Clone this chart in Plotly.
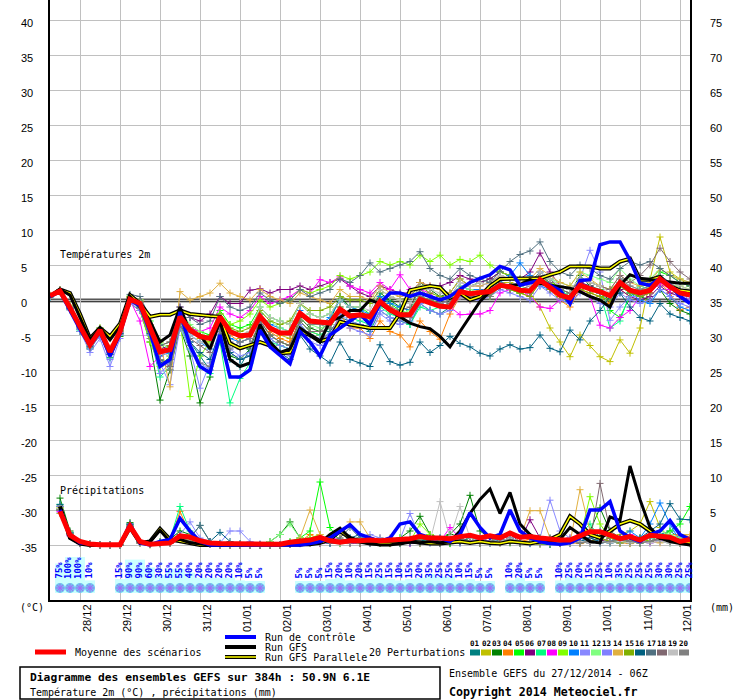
import plotly.graph_objects as go

# echeances en heures depuis le 27/12/2014 06Z
hours = list(range(0, 385, 6))
hours_p = hours[1:]          # les precipitations commencent a +6h

day_labels = ["28/12", "29/12", "30/12", "31/12", "01/01", "02/01", "03/01", "04/01",
              "05/01", "06/01", "07/01", "08/01", "09/01", "10/01", "11/01", "12/01"]
day_hours = [18 + 24 * k for k in range(len(day_labels))]

pert_colors = ["#008080", "#c0c000", "#008000", "#ff8000", "#00ff00", "#800080", "#00ff80",
               "#ff00ff", "#80ff00", "#0080ff", "#8888ff", "#80ff80", "#8080ff", "#e0b040",
               "#80b000", "#006080", "#507080", "#806870", "#c0c0c0", "#808080"]

# ---- temperatures 2m (C) ----
t_mean = [0.6, 1.3, -1.1,
          -3.8, -6.4, -4.3, -7.4, -4.5, 0.1, -0.5, -3.8, -7.4, -7.1, -2.4, -4.3,
          -5.2, -5.5, -2.4, -4.5, -5.1, -5.0, -2.3, -4.0, -4.7, -4.7, -1.9, -3.0,
          -3.1, -3.3, -1.3, -2.3, -2.1, -2.4, -0.2, -1.4, -2.1, -2.1, 0.1, -0.4,
          -0.9, -1.0, 1.2, 0.9, 1.0, 1.2, 2.1, 1.9, 1.4, 1.3, 2.9, 1.7,
          0.7, 0.3, 2.1, 1.6, 1.2, 0.6, 2.5, 1.4, 1.0, 1.4, 3.0, 1.9,
          1.0, 0.7]
t_ctrl = [0.5, 1.2, -1.5,
          -4.2, -6.5, -4.5, -8.0, -4.8, 0.0, -0.8, -4.5, -9.5, -8.5, -1.7, -6.5,
          -9.5, -10.4, -5.0, -11.0, -11.0, -10.0, -4.3, -6.7, -7.9, -9.1, -4.5, -6.0,
          -8.0, -5.0, -4.0, -3.0, -2.0, -3.5, -0.5, 1.0, 1.0, 0.5, 1.0, 0.5,
          0.0, 0.5, 1.5, 2.5, 3.1, 3.6, 4.8, 4.3, 2.1, 2.5, 2.8, 2.1,
          1.4, -0.5, 2.8, 2.9, 7.9, 8.3, 8.3, 5.7, 2.4, 2.1, 3.1, 2.1,
          0.5, -0.5]
t_gfs = [0.5, 1.5, 0.7,
         -2.4, -5.7, -4.0, -5.7, -3.8, 0.5, -1.0, -3.0, -6.0, -5.0, -1.0, -4.5,
         -5.0, -7.0, -3.0, -8.5, -9.5, -9.0, -3.5, -6.0, -7.5, -7.0, -4.0, -5.0,
         -6.0, -3.0, -2.5, -1.5, -1.5, 0.0, -0.5, -1.5, -2.4, -3.3, -3.8, -4.1,
         -5.2, -6.7, -4.5, -2.4, -0.2, 1.2, 1.9, 2.1, 2.2, 2.9, 2.4, 2.1,
         1.9, 1.7, 1.2, 0.5, 0.0, -1.0, 2.1, 3.6, 3.1, 2.9, 2.7, 2.5,
         2.4, 2.4]
t_gfsp = [0.5, 1.5, 1.0,
          -2.0, -5.5, -4.0, -5.2, -3.4, 0.7, -0.5, -2.4, -2.1, -2.1, -1.5, -2.0,
          -2.2, -2.3, -2.4, -6.2, -6.9, -6.5, -6.0, -6.5, -7.6, -7.5, -4.5, -5.0,
          -5.9, -5.5, -3.1, -3.5, -3.8, -4.0, -4.0, -4.0, -1.9, 1.4, 1.7, 2.0,
          1.8, 0.3, 1.0, 0.0, 0.5, 2.0, 3.0, 3.0, 3.1, 3.0, 3.1, 3.6,
          4.0, 4.8, 4.8, 4.8, 4.5, 4.5, 5.5, 5.9, 2.9, 2.9, 3.3, 1.9,
          1.4, 1.2]

t01 = [0.4, 1.2, -1.2, -4.2, -6.6, -4.6, -7.8, -4.8, 0.0, -0.8, -4.5, -8.5, -9.0, -3.0, -6.0,
       -8.0, -10.0, -5.0, -8.5, -9.5, -7.0, -4.0, -5.5, -6.5, -7.0, -3.5, -5.0,
       -6.0, -4.5, -2.5, -3.0, -3.5, -4.5, -1.5, -2.5, -3.0, -3.5, -0.5, -1.5,
       -2.0, -1.0, 1.0, 0.5, 0.5, 1.5, 2.5, 2.0, 1.0, 1.5, 3.5, 2.5,
       1.0, 0.5, 2.5, 2.0, 1.5, 0.5, 3.0, 1.5, 0.5, 1.0, 3.5, 2.5, 1.0, 0.5]
t02 = [0.6, 1.4, -0.8, -3.6, -6.2, -4.2, -7.0, -4.2, 0.4, -0.2, -3.8, -7.5, -7.0, -2.0, -4.5,
       -5.5, -6.0, -2.5, -4.5, -5.5, -5.0, -2.0, -4.0, -5.0, -5.5, -2.0, -3.5,
       -3.0, -3.5, -1.0, -2.0, -2.0, -3.0, 0.0, -1.0, -2.0, -2.5, 0.5, 0.0,
       -0.5, -1.0, 1.5, 1.0, 1.5, 1.0, 2.5, 2.5, 1.5, 1.0, -1.0, -4.0,
       -6.0, -8.1, -5.0, -6.5, -8.1, -8.8, -5.7, -7.6, -4.0, 2.9, 9.0, 4.0, 3.0, 2.0]
t03 = [0.5, 1.2, -1.4, -4.5, -7.0, -5.0, -8.2, -5.2, -0.5, -1.5, -6.0, -14.3, -10.0, -4.0, -8.0,
       -14.7, -11.0, -4.5, -8.0, -8.5, -7.0, -3.0, -5.0, -6.0, -6.5, -2.5, -4.0,
       -4.5, -3.0, 0.5, -1.0, -1.5, -2.5, 1.0, 0.0, -1.0, -1.5, 2.5, 1.5,
       0.5, 1.0, 3.0, 2.0, 2.5, 3.0, 4.0, 3.5, 2.0, 2.5, 4.0, 3.0,
       1.5, 1.0, 3.5, 2.0, 1.0, 0.0, 2.0, 1.0, 0.5, 0.0, 1.5, -0.5, -1.5, -2.0]
t04 = [0.5, 1.3, -1.0, -3.8, -6.3, -4.3, -7.3, -4.4, 0.3, -0.3, -3.5, -6.5, -6.0, -1.5, -4.0,
       -5.0, -6.5, -2.0, -5.0, -6.0, -5.5, -2.5, -4.5, -5.5, -6.0, -3.0, -4.5,
       -5.0, -5.5, -2.0, -4.0, -4.0, -5.5, -3.0, -4.5, -5.0, -6.7, -3.0, -4.5,
       -5.6, -2.0, 0.5, 0.0, 0.5, 1.5, 2.0, 1.5, 1.0, 0.5, 2.5, 1.5,
       0.0, -1.0, 1.5, 1.0, 0.5, -0.5, 1.5, 0.5, 0.5, 1.0, 2.5, 1.0, -1.4, -1.0]
t05 = [0.6, 1.4, -0.9, -3.5, -6.0, -4.0, -7.0, -4.0, 0.5, 0.0, -3.0, -6.0, -8.0, -2.0, -4.0,
       -4.5, -5.0, -1.5, -3.5, -4.0, -3.5, -1.0, -2.5, -3.0, -3.5, -0.5, -2.0,
       -2.5, -2.0, 0.0, -1.0, -1.0, -2.0, 0.5, -0.5, -1.5, -2.0, 0.5, 0.0,
       -0.5, -1.0, 1.0, 0.5, 1.0, 0.5, 2.0, 1.5, 1.0, 1.5, 3.5, 2.0,
       0.5, -0.5, 2.0, 1.5, 1.5, -1.5, -2.5, 0.5, 1.5, 2.0, 4.0, 3.5, 2.5, 2.0]
t06 = [0.5, 1.3, -1.1, -3.9, -6.5, -4.4, -7.5, -4.6, 0.1, -0.6, -3.8, -7.0, -6.5, -1.0, -2.5,
       -3.0, -2.0, 0.5, -0.5, -0.5, 1.4, 1.6, 1.0, 1.5, 1.5, 2.0, 1.5,
       2.0, 2.5, 3.0, 2.0, 1.0, 0.5, 2.0, 1.5, 1.0, 1.0, 2.5, 2.0,
       2.0, 2.5, 3.5, 3.0, 2.5, 3.0, 4.0, 3.5, 3.0, 4.0, 6.7, 4.0,
       2.0, 1.5, 2.5, 2.0, 1.0, 0.5, 1.5, 0.5, 0.0, 0.5, 2.0, 1.0, 0.5, 0.0]
t07 = [0.4, 1.2, -1.3, -4.3, -6.9, -4.8, -8.3, -5.0, -0.3, -1.0, -5.0, -11.0, -9.5, -3.5, -7.0,
       -9.5, -10.5, -6.0, -14.7, -11.2, -9.0, -4.5, -6.0, -6.5, -7.0, -3.0, -4.5,
       -5.0, -4.0, -1.5, -2.5, -3.0, -3.5, -1.0, -2.0, -2.5, -3.5, -1.0, -1.5,
       -1.0, -0.5, 1.5, 1.0, 1.0, 1.5, 2.5, 2.0, 1.5, 1.0, 3.0, 2.5,
       1.5, 0.5, 2.0, 1.5, 1.0, -4.0, -3.0, 1.0, 2.0, 1.5, 3.5, 2.0, 1.5, 1.0]
t08 = [0.5, 1.3, -1.0, -3.8, -6.4, -4.3, -7.4, -4.6, 0.0, -3.0, -9.5, -8.0, -7.0, -2.0, -4.0,
       -4.5, -4.0, -1.0, -2.0, -2.5, -1.5, 0.5, -0.5, 0.0, 0.5, 1.5, 1.0,
       2.9, 2.5, 3.3, 2.0, 1.5, 1.0, 2.5, 1.5, 3.6, 1.5, 1.5, 1.0,
       -0.5, -1.0, -2.1, -2.0, -2.0, -1.5, 1.0, 1.5, 1.5, 0.5, -1.0, -1.2,
       0.0, 0.5, 1.5, 0.5, -3.6, -4.0, -2.5, -1.5, 0.5, 1.0, 2.5, 1.5, 1.0, 0.5]
t09 = [0.5, 1.4, -0.9, -3.6, -6.3, -4.2, -7.2, -4.4, 0.3, -1.5, -6.0, -9.5, -8.0, -3.0, -13.8,
       -8.0, -6.0, -2.0, -3.5, -3.0, -2.0, 0.0, -1.0, -0.5, 0.0, 1.5, 1.0,
       1.5, 2.0, 3.5, 3.0, 3.5, 4.0, 5.5, 5.0, 5.5, 5.0, 6.4, 5.5,
       6.4, 5.0, 5.8, 5.5, 6.4, 5.0, 4.0, 3.5, 3.0, 2.5, 3.5, 2.5,
       2.0, 1.5, 3.0, 2.5, 2.0, 1.5, 2.5, 1.5, 1.0, 1.5, 3.0, 2.0, 2.0, 1.5]
t10 = [0.5, 1.3, -1.1, -3.9, -6.5, -4.5, -7.6, -4.7, -0.2, -0.8, -4.2, -8.0, -7.5, -2.5, -5.0,
       -6.0, -7.0, -3.0, -5.5, -6.0, -5.5, -2.0, -3.5, -4.0, -4.5, -1.5, -3.0,
       -3.5, -2.5, 0.0, -1.0, -1.5, -2.0, 0.5, -0.5, -1.0, -1.5, 1.0, 0.5,
       0.0, 0.5, 2.0, 1.5, 1.5, 1.0, 2.5, 3.5, 5.3, 3.5, 2.0, 1.5,
       1.0, 0.5, 2.0, 1.5, 1.0, 0.5, 2.5, 1.0, 0.0, -0.5, 1.5, 0.5, -1.0, -1.5]
t11 = [0.5, 1.2, -1.4, -4.5, -7.5, -5.5, -9.5, -5.5, -0.5, -1.5, -5.0, -9.0, -12.1, -4.0, -7.0,
       -12.6, -9.0, -4.0, -7.0, -8.0, -7.5, -3.5, -5.5, -6.5, -7.0, -3.5, -5.0,
       -5.5, -5.0, -2.0, -3.0, -3.5, -4.0, -1.5, -2.5, -3.0, -2.0, 0.5, -0.5,
       -1.0, 0.5, 2.5, 2.0, 2.0, 2.5, 3.5, 3.0, 2.5, 2.0, 4.0, 3.0,
       2.0, 1.5, 3.0, 7.1, 4.0, -2.9, -1.0, 0.5, 0.5, 1.5, 3.0, 2.0, 1.0, 0.0]
t12 = [0.6, 1.4, -0.8, -3.5, -6.0, -4.0, -7.0, -4.2, 0.6, 0.0, -3.0, -6.0, -7.0, -1.5, -3.5,
       -4.5, -5.5, -2.0, -4.0, -5.0, -4.5, -1.5, -3.0, -4.0, -4.5, -2.0, -3.5,
       -4.0, -3.5, -1.0, -2.0, -2.5, -3.0, -0.5, -1.5, -2.0, -1.5, 1.0, 0.5,
       0.0, 0.5, 2.0, 1.5, 1.0, 1.0, 2.5, 2.0, 2.0, 1.5, 3.5, 3.0,
       2.5, 2.0, 4.0, 3.5, 3.0, 2.5, 4.5, 3.0, 2.0, 3.0, 4.5, 3.5, 3.0, 2.5]
t13 = [0.4, 1.2, -1.3, -4.2, -7.0, -5.0, -8.5, -5.0, -0.3, -1.2, -5.0, -10.5, -9.0, -3.0, -6.0,
       -9.0, -10.0, -4.5, -7.5, -8.5, -8.0, -3.5, -6.0, -7.5, -8.0, -4.0, -6.0,
       -6.5, -5.5, -2.5, -4.0, -4.5, -5.0, -2.0, -3.0, -3.5, -3.0, -0.5, -1.5,
       -2.0, -1.5, 0.5, 0.0, 0.0, 0.5, 1.5, 1.0, 0.5, 0.0, 2.0, 1.0,
       0.0, -0.5, 1.0, 0.5, -0.5, -1.0, 1.0, 0.0, -0.5, 0.0, 1.5, 0.5, -0.5, -1.0]
t14 = [0.7, 1.5, -0.7, -3.5, -6.0, -4.0, -6.8, -4.0, 0.5, 0.0, -2.5, -6.0, -12.4, 1.2, 0.0,
       0.5, 1.0, 2.4, 1.0, 0.5, 0.0, 1.5, 0.5, 0.0, -0.5, 1.0, 0.5,
       0.0, -0.5, 1.5, 0.5, 0.5, 0.0, 2.0, 1.0, 0.5, 1.0, 2.5, 2.0,
       1.5, 1.0, 3.0, 2.0, 2.0, 2.5, 3.5, 3.0, 2.5, 3.0, 4.5, 3.5,
       2.5, 2.0, 4.0, 3.0, 2.0, 1.5, 3.5, 2.5, 2.0, 2.5, 4.5, 3.5, 3.0, 2.5]
t15 = [0.5, 1.3, -1.0, -3.8, -6.4, -4.4, -7.4, -4.5, 0.1, -0.5, -4.0, -7.5, -6.5, -2.0, -4.0,
       -5.0, -5.5, -2.0, -4.0, -4.5, -4.0, -1.5, -3.0, -3.5, -3.0, -0.5, -1.5,
       -1.5, -1.0, 0.5, 0.0, 0.0, -0.5, 1.5, 0.5, 0.0, 0.5, 2.0, 1.0,
       0.5, 0.0, 1.5, 1.0, 1.0, 0.5, 2.0, 1.5, 1.0, 0.5, 2.5, 1.5,
       0.5, 0.0, 1.5, 1.0, 0.5, 0.0, 2.0, 1.0, 0.5, 1.0, 3.0, 2.0, 1.5, 1.0]
t16 = [0.5, 1.2, -1.2, -4.0, -6.7, -4.7, -7.8, -4.8, -0.2, -1.0, -4.8, -9.0, -8.5, -3.5, -6.0,
       -7.5, -8.5, -4.5, -7.5, -8.5, -8.0, -4.0, -6.5, -7.5, -8.5, -5.0, -7.0,
       -8.0, -9.0, -6.0, -8.5, -9.0, -9.5, -6.4, -8.8, -9.3, -8.9, -6.0, -7.5,
       -6.5, -5.2, -6.2, -6.7, -7.6, -8.0, -7.0, -6.4, -7.0, -6.8, -5.0, -6.9,
       -7.4, -4.3, -5.7, -3.0, -1.5, 0.5, 1.0, -1.0, -2.5, -3.0, -0.5, -2.0, -2.5, -3.0]
t17 = [0.5, 1.3, -1.0, -3.8, -6.3, -4.3, -7.3, -4.4, 0.8, 0.5, -2.5, -6.5, -6.0, -1.0, -2.5,
       -3.5, -3.0, 0.5, -1.0, -1.5, -1.0, 1.0, 0.0, -0.5, 0.0, 1.5, 0.5,
       1.0, 1.5, 3.0, 2.5, 3.5, 5.3, 4.0, 4.5, 5.0, 5.5, 6.9, 4.5,
       3.5, 3.0, 4.5, 3.5, 3.0, 2.5, 4.0, 5.5, 6.5, 7.0, 8.3, 5.5,
       4.0, 3.5, 5.0, 4.5, 3.5, 3.0, 4.5, 5.5, 5.0, 5.5, 4.5, 3.5, 2.5, 2.0]
t18 = [0.6, 1.5, -0.9, -3.7, -6.2, -4.2, -7.2, -4.3, 0.3, -0.3, -3.5, -8.5, -9.5, -3.0, -5.5,
       -6.5, -7.5, -3.5, -6.0, -7.0, -6.5, -3.0, -5.0, -6.0, -6.5, -3.0, -4.5,
       -4.5, -4.0, -1.0, -2.0, -2.0, -2.5, 0.0, -1.0, -1.5, -1.0, 1.5, 0.5,
       0.0, -0.5, 1.0, 0.5, 0.5, 1.0, 2.5, 2.0, 1.5, 2.0, 3.5, 2.5,
       1.5, 1.0, 3.0, 2.5, 2.0, 1.5, 3.5, 2.5, 3.5, 5.0, 7.4, 5.5, 4.0, 3.0]
t19 = [0.5, 1.3, -1.0, -3.9, -6.4, -4.4, -7.4, -4.6, 0.2, -0.5, -4.0, -7.5, -8.0, -2.5, -5.0,
       -6.0, -6.5, -2.5, -4.5, -5.0, -4.5, -1.0, -2.5, -3.0, -3.5, -0.5, -2.0,
       -2.5, -2.0, 0.0, -1.0, -1.0, -1.5, 1.5, 0.5, 0.0, -0.5, 2.0, 1.5,
       1.0, 0.5, 2.5, 2.0, 2.5, 2.0, 3.5, 3.0, 2.5, 2.0, 4.0, 3.0,
       2.0, 1.5, 3.0, 2.5, 2.0, 1.0, 3.0, 2.0, 1.5, 2.0, 3.5, 2.5, 2.0, 1.5]
t20 = [0.5, 1.2, -1.2, -4.1, -6.8, -4.7, -7.7, -4.9, 0.0, -1.2, -5.5, -8.5, -10.0, -3.5, -6.5,
       -9.0, -9.5, -4.5, -7.0, -6.0, -5.5, -2.5, -4.0, -4.5, -5.0, -2.0, -3.5,
       -3.5, -4.0, -1.5, -2.5, -2.5, -3.0, -0.5, -1.5, -2.5, -2.5, 0.5, 0.0,
       -0.5, 0.0, 1.5, 1.0, 1.0, 0.5, 2.0, 1.5, 1.5, 1.0, 2.5, 2.0,
       1.0, 0.5, 2.0, 1.5, 1.0, 0.5, 3.0, 2.0, 1.5, 2.0, 3.5, 2.5, 1.5, 1.0]

temp_members = [t01, t02, t03, t04, t05, t06, t07, t08, t09, t10,
                t11, t12, t13, t14, t15, t16, t17, t18, t19, t20]

# ---- precipitations (mm / 6h), a partir de +6h ----
pr_mean = [4.8, 1.4, 0.5, 0.15, 0.05, 0.05, 0.05, 2.7, 0.5, 0.1, 0.2, 0.3, 1.3, 1.1,
           0.6, 0.3, 0.2, 0.2, 0.2, 0.15, 0.15, 0.1, 0.1, 0.4, 0.5, 0.7,
           1.1, 0.6, 0.4, 0.6, 0.6, 0.7, 0.6, 0.7, 0.8, 0.9, 1.2, 1.0,
           1.0, 0.9, 1.2, 1.4, 1.0, 1.3, 1.0, 1.7, 1.1, 1.2, 1.0, 0.8,
           0.7, 0.7, 1.3, 1.9, 1.9, 1.4, 0.9, 1.2, 0.7, 1.4, 1.2, 1.1, 0.5, 0.8]
pr_ctrl = [5.0, 1.5, 0.3, 0.1, 0.0, 0.0, 0.0, 3.0, 0.3, 0.0, 0.5, 0.8, 3.8, 2.0,
           0.5, 0.0, 0.0, 0.0, 0.0, 0.0, 0.0, 0.0, 0.0, 0.0, 0.0, 0.2,
           0.5, 1.0, 2.0, 2.9, 1.5, 1.0, 0.5, 1.0, 3.0, 3.3, 1.5, 1.0,
           1.0, 0.5, 1.5, 4.6, 2.5, 1.0, 1.5, 5.0, 2.0, 1.0, 0.5, 0.2,
           0.1, 0.3, 1.0, 5.0, 5.0, 6.2, 2.0, 1.0, 0.5, 1.5, 2.0, 3.5, 1.5, 0.8]
pr_gfs = [5.5, 1.0, 0.2, 0.0, 0.0, 0.0, 0.0, 2.5, 0.3, 0.5, 2.1, 0.5, 0.8, 0.3,
          0.1, 0.0, 0.0, 0.0, 0.0, 0.0, 0.0, 0.0, 0.0, 0.0, 0.0, 0.2,
          0.3, 1.5, 2.4, 1.0, 0.5, 0.2, 0.0, 0.0, 0.2, 0.5, 0.3, 0.5,
          0.3, 0.5, 2.0, 4.5, 6.5, 8.0, 4.5, 7.5, 3.0, 1.5, 0.5, 0.3,
          0.8, 2.5, 1.5, 0.5, 0.3, 4.0, 3.5, 11.3, 6.5, 2.5, 1.0, 0.5, 0.2, 0.0]
pr_gfsp = [5.5, 1.0, 0.2, 0.0, 0.0, 0.0, 0.0, 2.5, 0.3, 0.5, 2.3, 0.8, 0.5, 0.2,
           0.0, 0.0, 0.0, 0.0, 0.0, 0.0, 0.0, 0.0, 0.0, 0.0, 0.0, 0.1,
           0.3, 0.8, 2.0, 1.0, 0.5, 0.2, 0.2, 0.2, 0.2, 0.5, 0.3, 0.2,
           0.2, 0.3, 0.5, 0.3, 0.5, 0.3, 0.2, 0.5, 0.3, 0.2, 0.5, 0.8,
           1.5, 4.1, 3.0, 1.5, 1.0, 2.0, 3.0, 3.5, 3.0, 2.0, 1.0, 1.0, 0.5, 0.3]

p01 = [5.5, 1.8, 0.3, 0.1, 0.0, 0.0, 0.0, 3.0, 0.5, 0.1, 0.3, 0.5, 1.5, 1.0,
       2.8, 0.5, 0.2, 0.1, 0.1, 0.0, 0.0, 0.0, 0.0, 0.3, 0.2, 0.5,
       1.0, 0.8, 0.5, 0.3, 0.5, 1.0, 0.5, 0.3, 0.5, 1.0, 0.5, 0.3,
       0.2, 0.5, 1.0, 0.5, 0.3, 0.5, 1.5, 0.8, 0.5, 0.3, 0.2, 0.1,
       0.2, 0.5, 1.0, 1.5, 2.0, 1.0, 0.5, 0.3, 0.5, 1.0, 1.5, 2.0, 1.0, 0.5]
p02 = [4.5, 1.5, 0.2, 0.1, 0.0, 0.0, 0.0, 2.5, 0.3, 0.0, 0.2, 0.3, 1.0, 0.5,
       0.3, 0.1, 0.0, 0.0, 0.0, 0.0, 0.0, 0.0, 0.0, 0.2, 0.5, 0.3,
       0.5, 0.3, 0.2, 0.5, 1.0, 0.5, 0.3, 0.2, 0.3, 0.5, 1.0, 0.5,
       0.3, 0.2, 0.5, 1.0, 0.5, 0.3, 0.5, 1.0, 0.5, 0.2, 0.1, 0.3,
       0.5, 1.0, 0.5, 0.3, 0.5, 1.0, 1.5, 2.0, 3.0, 6.2, 2.5, 1.0, 0.5, 0.3]
p03 = [6.7, 2.0, 0.4, 0.1, 0.0, 0.0, 0.0, 3.2, 0.5, 0.1, 0.5, 0.8, 2.0, 1.5,
       0.5, 0.2, 0.1, 0.0, 0.0, 0.0, 0.0, 0.5, 1.5, 3.3, 1.0, 0.5,
       0.5, 0.3, 0.5, 0.8, 1.0, 0.5, 0.3, 0.5, 1.0, 2.0, 4.1, 1.5,
       1.0, 1.5, 3.0, 7.1, 2.0, 1.0, 0.5, 0.3, 0.5, 0.3, 0.2, 0.1,
       0.3, 0.5, 1.0, 2.0, 5.3, 2.0, 1.0, 0.5, 0.3, 0.5, 1.0, 0.5, 0.3, 0.2]
p04 = [5.0, 1.6, 0.3, 0.1, 0.0, 0.0, 0.0, 2.8, 0.4, 0.1, 0.3, 0.5, 4.8, 1.5,
       0.5, 0.2, 0.0, 0.0, 0.0, 0.0, 0.0, 0.0, 0.0, 0.2, 0.5, 1.5,
       0.8, 0.5, 0.3, 0.2, 0.5, 0.3, 0.5, 1.0, 0.5, 0.3, 0.2, 0.5,
       0.3, 0.5, 1.0, 0.5, 1.0, 0.5, 1.5, 1.0, 0.5, 0.8, 0.5, 0.3,
       0.5, 0.3, 0.2, 0.5, 1.0, 0.5, 0.3, 0.2, 0.5, 1.0, 0.5, 1.5, 1.5, 1.2]
p05 = [5.2, 1.5, 0.3, 0.1, 0.0, 0.0, 0.0, 2.6, 0.3, 0.1, 0.2, 0.3, 1.0, 0.8,
       0.3, 0.1, 0.0, 0.0, 0.0, 0.0, 0.0, 0.0, 0.0, 0.5, 1.0, 2.0,
       9.0, 2.5, 0.5, 0.3, 0.5, 0.3, 0.5, 0.3, 0.2, 0.5, 1.0, 0.5,
       0.3, 0.2, 0.5, 1.0, 0.5, 0.3, 0.5, 0.8, 0.5, 0.3, 0.2, 0.3,
       0.5, 0.8, 0.5, 0.3, 1.0, 0.5, 0.3, 0.5, 0.3, 0.5, 1.0, 2.0, 3.0, 5.5]
p06 = [5.0, 1.4, 0.3, 0.1, 0.0, 0.0, 0.0, 2.7, 0.4, 0.1, 0.2, 0.3, 0.8, 0.5,
       0.3, 0.1, 0.0, 0.0, 0.0, 0.0, 0.0, 0.0, 0.0, 0.1, 0.2, 0.3,
       0.2, 0.3, 0.5, 0.3, 0.2, 0.3, 0.5, 0.3, 0.5, 0.3, 0.8, 0.5,
       0.3, 0.5, 1.0, 0.5, 1.0, 0.5, 1.0, 1.5, 0.5, 3.6, 1.0, 0.5,
       0.3, 0.2, 0.5, 0.3, 0.5, 1.0, 0.5, 0.3, 0.5, 1.0, 0.5, 0.8, 1.5, 1.0]
p07 = [5.8, 1.8, 0.3, 0.1, 0.0, 0.0, 0.0, 3.0, 0.5, 0.1, 0.3, 0.8, 5.5, 2.0,
       0.5, 0.2, 0.1, 0.0, 0.0, 0.0, 0.0, 0.0, 0.0, 0.2, 0.5, 1.0,
       0.5, 0.3, 0.2, 0.5, 0.8, 0.5, 0.3, 0.5, 1.0, 0.5, 0.8, 0.5,
       0.3, 0.5, 1.0, 0.5, 0.5, 0.3, 0.5, 1.0, 0.5, 0.3, 0.2, 0.5,
       0.8, 0.5, 1.5, 3.0, 1.0, 0.5, 0.3, 0.5, 1.0, 0.5, 1.5, 1.0, 0.8, 0.5]
p08 = [4.8, 1.4, 0.2, 0.1, 0.0, 0.0, 0.0, 2.5, 0.3, 0.1, 0.2, 0.3, 1.5, 1.0,
       0.5, 0.2, 0.0, 0.0, 0.0, 0.0, 0.0, 0.0, 0.0, 0.2, 0.3, 0.5,
       0.3, 1.0, 0.8, 0.5, 0.3, 0.5, 1.0, 0.5, 0.3, 0.2, 1.5, 0.8,
       0.5, 2.5, 1.0, 0.5, 0.5, 0.3, 0.5, 1.0, 0.5, 0.3, 0.2, 0.5,
       0.3, 1.0, 1.5, 0.5, 1.0, 0.5, 0.3, 1.5, 0.5, 0.3, 0.5, 1.0, 0.5, 0.3]
p09 = [5.3, 1.6, 0.3, 0.1, 0.0, 0.0, 0.0, 2.8, 0.4, 0.1, 0.3, 0.5, 1.2, 0.8,
       0.3, 0.1, 0.0, 0.0, 0.0, 0.0, 0.0, 0.0, 0.0, 0.2, 0.5, 1.0,
       1.5, 0.5, 2.0, 0.5, 0.3, 0.5, 1.0, 0.5, 1.0, 0.5, 3.0, 1.5,
       0.5, 0.3, 1.0, 0.5, 0.3, 0.5, 1.0, 0.5, 0.3, 0.5, 1.0, 0.5,
       0.3, 0.5, 1.0, 6.9, 3.0, 1.0, 0.5, 0.3, 0.5, 1.0, 0.5, 0.3, 0.5, 0.3]
p10 = [5.0, 1.5, 0.3, 0.1, 0.0, 0.0, 0.0, 2.7, 0.4, 0.1, 0.3, 0.5, 1.5, 1.0,
       0.5, 0.2, 0.0, 0.0, 0.0, 0.0, 0.0, 0.0, 0.0, 0.1, 0.3, 0.5,
       0.5, 0.3, 0.5, 1.0, 0.5, 0.3, 0.5, 0.3, 0.2, 0.5, 0.3, 0.5,
       1.0, 0.5, 0.3, 0.5, 0.3, 0.5, 1.0, 0.5, 0.3, 0.2, 0.5, 0.3,
       0.5, 0.3, 1.0, 0.5, 0.3, 0.5, 1.0, 2.0, 1.0, 3.0, 6.0, 3.0, 0.5, 0.3]
p11 = [5.5, 1.7, 0.3, 0.1, 0.0, 0.0, 0.0, 3.0, 0.5, 0.1, 0.3, 0.5, 1.5, 3.3,
       1.0, 0.5, 0.3, 2.0, 2.0, 0.5, 0.2, 0.1, 0.0, 0.2, 0.3, 0.5,
       0.5, 0.3, 0.5, 0.8, 1.0, 1.5, 1.0, 0.5, 0.8, 4.5, 1.0, 0.5,
       0.3, 0.5, 1.0, 0.5, 1.0, 0.5, 0.8, 0.5, 0.3, 0.5, 1.0, 6.4,
       2.0, 1.0, 0.5, 0.3, 1.0, 0.5, 0.3, 0.5, 0.5, 1.0, 0.5, 0.3, 0.5, 0.3]
p12 = [5.2, 1.6, 0.3, 0.1, 0.0, 0.0, 0.0, 2.8, 0.4, 0.1, 0.3, 0.5, 1.2, 0.8,
       0.3, 0.1, 0.0, 0.0, 0.0, 0.0, 0.0, 0.5, 1.5, 3.0, 1.0, 0.5,
       0.8, 0.5, 0.3, 0.5, 1.0, 0.5, 0.3, 0.5, 1.0, 0.5, 0.3, 0.5,
       0.3, 0.5, 1.0, 0.5, 0.3, 0.5, 1.0, 0.5, 0.3, 0.5, 1.0, 0.5,
       0.5, 0.3, 0.5, 1.0, 0.5, 0.3, 0.5, 1.0, 0.5, 1.0, 2.0, 1.5, 1.0, 0.5]
p13 = [4.6, 1.3, 0.2, 0.1, 0.0, 0.0, 0.0, 2.5, 0.3, 0.1, 0.2, 0.3, 0.8, 0.5,
       0.3, 0.1, 0.0, 0.0, 0.0, 0.0, 0.0, 0.0, 0.0, 0.1, 0.3, 0.5,
       0.5, 0.3, 0.5, 0.3, 0.5, 0.3, 0.5, 0.3, 0.5, 0.3, 0.5, 0.3,
       0.2, 0.5, 0.3, 0.5, 0.3, 0.5, 1.0, 0.5, 0.3, 0.2, 0.5, 0.3,
       0.5, 0.3, 0.5, 1.0, 0.5, 0.3, 0.5, 1.0, 0.5, 0.3, 0.5, 1.0, 0.5, 0.3]
p14 = [5.3, 1.6, 0.3, 0.1, 0.0, 0.0, 0.0, 2.7, 0.4, 0.1, 0.3, 0.5, 1.0, 0.5,
       0.3, 0.1, 0.0, 0.0, 0.0, 0.0, 0.0, 0.0, 0.0, 0.2, 1.0, 5.0,
       1.5, 0.5, 1.0, 3.3, 3.3, 1.0, 0.5, 0.3, 0.3, 0.5, 1.0, 0.5,
       0.3, 0.5, 1.0, 0.5, 0.3, 0.5, 1.0, 0.5, 1.0, 4.9, 4.9, 1.0,
       0.5, 0.3, 7.9, 2.0, 1.0, 0.5, 0.3, 0.5, 1.0, 0.5, 0.3, 1.0, 1.5, 1.5]
p15 = [5.0, 1.5, 0.3, 0.1, 0.0, 0.0, 0.0, 2.6, 0.3, 0.1, 0.2, 0.3, 0.8, 0.5,
       0.3, 0.1, 0.0, 0.0, 0.0, 0.0, 0.0, 0.0, 0.0, 0.1, 0.3, 0.5,
       0.3, 0.5, 0.3, 0.5, 0.3, 0.5, 0.3, 0.2, 0.3, 0.5, 0.3, 0.5,
       0.3, 0.5, 1.0, 0.5, 0.3, 0.5, 0.3, 0.5, 0.3, 0.5, 0.3, 0.5,
       1.0, 0.5, 0.3, 0.5, 1.0, 0.5, 0.3, 0.5, 1.0, 0.5, 1.0, 0.5, 0.3, 0.2]
p16 = [5.8, 1.7, 0.3, 0.1, 0.0, 0.0, 0.0, 2.9, 0.4, 0.1, 0.3, 0.5, 1.0, 0.5,
       0.5, 0.5, 1.8, 0.5, 0.2, 0.1, 0.0, 0.0, 0.0, 0.2, 0.5, 0.3,
       0.5, 0.3, 0.5, 1.0, 1.5, 1.0, 0.5, 0.3, 0.5, 0.3, 0.5, 1.0,
       0.5, 0.3, 0.5, 1.0, 0.5, 0.3, 0.5, 1.0, 0.5, 0.3, 0.5, 1.0,
       0.5, 0.3, 0.5, 1.0, 0.5, 0.3, 0.5, 1.0, 1.0, 2.0, 3.0, 5.9, 3.7, 3.6]
p17 = [5.6, 1.7, 0.3, 0.1, 0.0, 0.0, 0.0, 3.0, 0.5, 0.1, 0.3, 0.5, 1.5, 1.0,
       2.8, 0.5, 0.2, 0.1, 0.0, 0.0, 0.0, 0.0, 0.0, 0.1, 0.3, 0.5,
       0.5, 0.3, 1.0, 2.5, 1.0, 0.5, 0.3, 0.5, 0.3, 0.5, 1.0, 0.5,
       0.3, 0.5, 1.0, 0.5, 0.3, 0.5, 1.0, 0.5, 0.3, 0.5, 1.0, 0.5,
       0.3, 0.5, 1.0, 0.5, 0.3, 0.5, 1.0, 0.5, 0.3, 0.5, 1.0, 0.5, 0.3, 0.2]
p18 = [5.0, 1.5, 0.3, 0.1, 0.0, 0.0, 0.0, 2.6, 0.3, 0.1, 0.2, 0.3, 1.0, 0.5,
       0.3, 0.1, 0.0, 0.0, 0.0, 0.0, 0.0, 0.0, 0.0, 0.1, 0.3, 0.5,
       0.3, 0.5, 0.3, 0.5, 0.3, 0.5, 0.3, 0.5, 0.3, 0.5, 0.3, 0.5,
       0.3, 0.5, 0.3, 0.5, 0.3, 0.5, 0.3, 0.5, 0.3, 0.5, 0.3, 0.5,
       0.3, 0.5, 0.3, 0.5, 8.8, 2.0, 1.0, 0.5, 0.3, 0.5, 1.0, 0.5, 0.3, 0.2]
p19 = [5.2, 1.5, 0.3, 0.1, 0.0, 0.0, 0.0, 2.7, 0.4, 0.1, 0.2, 0.5, 1.0, 0.5,
       0.3, 0.1, 0.0, 0.0, 0.0, 0.0, 0.0, 0.0, 0.0, 0.1, 0.3, 0.5,
       0.3, 0.5, 0.3, 0.5, 0.5, 1.0, 0.5, 0.3, 0.5, 1.0, 0.5, 0.5,
       6.2, 1.0, 5.5, 1.0, 0.5, 0.3, 0.5, 1.0, 0.5, 0.3, 0.2, 0.3,
       0.5, 0.3, 0.5, 0.3, 0.5, 0.3, 0.5, 0.3, 0.5, 0.3, 0.5, 0.3, 0.3, 0.2]
p20 = [5.0, 1.5, 0.3, 0.1, 0.0, 0.0, 0.0, 2.7, 0.4, 0.1, 0.2, 0.5, 1.0, 0.5,
       0.3, 0.1, 0.0, 0.0, 0.0, 0.0, 0.0, 0.0, 0.0, 0.1, 0.3, 0.5,
       0.3, 0.5, 0.8, 0.5, 0.3, 0.2, 0.5, 0.3, 0.5, 0.8, 0.3, 0.5,
       0.3, 0.5, 0.8, 0.5, 0.2, 0.5, 0.3, 0.8, 0.3, 0.5, 0.3, 0.5,
       0.3, 0.8, 0.3, 0.5, 0.3, 0.5, 0.8, 0.5, 0.3, 0.5, 0.8, 0.5, 0.3, 0.2]

precip_members = [p01, p02, p03, p04, p05, p06, p07, p08, p09, p10,
                  p11, p12, p13, p14, p15, p16, p17, p18, p19, p20]

# probabilite de precipitations (%) par pas de 6h
prob = [75, 100, 100, 10, 0, 0, 15, 90, 90, 60, 30, 55, 55, 40,
        20, 20, 20, 20, 10, 5, 5, 0, 0, 0, 5, 5,
        5, 15, 20, 10, 20, 15, 25, 15, 10, 15, 20, 35,
        25, 25, 10, 15, 5, 5, 0, 10, 20, 5, 5, 0,
        10, 25, 20, 15, 25, 10, 35, 25, 25, 25, 30, 30, 25, 25]

mono = "DejaVu Sans Mono"
sans = "Liberation Sans"


# coordonnees pixel -> papier (zone de trace 640x600 a partir de (50,0))
def px_x(px):
    return (px - 50) / 640


def px_y(py):
    return (600 - py) / 600


fig = go.Figure()

# membres : temperature (axe y) et precipitations (axe y3)
for c, t in zip(pert_colors, temp_members):
    fig.add_trace(go.Scatter(x=hours, y=t, mode="lines+markers", yaxis="y",
                             line=dict(color=c, width=1),
                             marker=dict(symbol="cross-thin", size=5, line=dict(color=c, width=1))))
for c, p in zip(pert_colors, precip_members):
    fig.add_trace(go.Scatter(x=hours_p, y=p, mode="lines+markers", yaxis="y3",
                             line=dict(color=c, width=1),
                             marker=dict(symbol="cross-thin", size=5, line=dict(color=c, width=1))))

# runs principaux
for xs, ys, ax in [(hours, t_gfsp, "y"), (hours_p, pr_gfsp, "y3")]:
    fig.add_trace(go.Scatter(x=xs, y=ys, mode="lines", yaxis=ax, line=dict(color="black", width=4)))
    fig.add_trace(go.Scatter(x=xs, y=ys, mode="lines", yaxis=ax, line=dict(color="#ffff00", width=1.5)))
for xs, ys, ax in [(hours, t_gfs, "y"), (hours_p, pr_gfs, "y3")]:
    fig.add_trace(go.Scatter(x=xs, y=ys, mode="lines", yaxis=ax, line=dict(color="black", width=3)))
for xs, ys, ax in [(hours, t_ctrl, "y"), (hours_p, pr_ctrl, "y3")]:
    fig.add_trace(go.Scatter(x=xs, y=ys, mode="lines", yaxis=ax, line=dict(color="#0000ff", width=3.5)))
for xs, ys, ax in [(hours, t_mean, "y"), (hours_p, pr_mean, "y3")]:
    fig.add_trace(go.Scatter(x=xs, y=ys, mode="lines", yaxis=ax, line=dict(color="#ff0000", width=5)))

# bande des probabilites + flocons
snow_h = [h for h, p in zip(hours_p, prob) if p > 0]
fig.add_trace(go.Bar(x=hours_p, y=prob, width=6, yaxis="y2",
                     marker=dict(color="#ccffff", line=dict(width=0))))
fig.add_trace(go.Scatter(x=snow_h, y=[-19.2] * len(snow_h), mode="markers", yaxis="y2",
                         marker=dict(symbol="square", size=10, color="#ccffff")))
fig.add_trace(go.Scatter(x=snow_h, y=[-19.2] * len(snow_h), mode="markers", yaxis="y2",
                         marker=dict(symbol="circle", size=10, color="#70c4ee")))
fig.add_trace(go.Scatter(x=snow_h, y=[-19.2] * len(snow_h), mode="markers", yaxis="y2",
                         marker=dict(symbol="asterisk-open", size=7,
                                     line=dict(color="#e8f8ff", width=1))))

ann = []
for h, p in zip(hours_p, prob):
    if p > 0:
        ann.append(dict(x=h, xref="x", xanchor="center", xshift=-2, y=px_y(580), yref="paper",
                        yanchor="bottom", text="<b>%d%%</b>" % p, textangle=-90,
                        showarrow=False, borderpad=0,
                        font=dict(family=mono, size=9, color="#0000ff")))

for h, lab in zip(day_hours, day_labels):
    ann.append(dict(x=h, xref="x", xanchor="center", xshift=7, y=px_y(602), yref="paper",
                    yanchor="top", text=lab, textangle=-90, showarrow=False,
                    font=dict(family=sans, size=11, color="black")))

for v in range(-35, 41, 5):
    ann.append(dict(x=px_x(19), xref="paper", xanchor="left", y=v, yref="y", yshift=-3,
                    text=str(v), showarrow=False,
                    font=dict(family=sans, size=11, color="black")))
for v in range(0, 76, 5):
    ann.append(dict(x=px_x(708), xref="paper", xanchor="left", y=v, yref="y3", yshift=-3,
                    text=str(v), showarrow=False, font=dict(family=sans, size=11, color="black")))


def txt(px, py, s, size=10, anchor="left"):
    return dict(x=px_x(px), xref="paper", xanchor=anchor, y=px_y(py), yref="paper",
                yanchor="middle", text=s, showarrow=False, borderpad=0,
                font=dict(family=mono, size=size, color="black"))


ann += [txt(19, 607, "(\u00b0C)"), txt(709, 607, "(mm)"),
        txt(59, 254, "Temp\u00e9ratures 2m"), txt(59, 490, "Pr\u00e9cipitations"),
        txt(74, 652, "Moyenne des sc\u00e9narios"),
        txt(264, 637, "Run de contr\u00f4le"), txt(264, 647, "Run GFS"),
        txt(264, 657, "Run GFS Parallele"), txt(368, 652, "20 Perturbations"),
        txt(29, 677, "<b>Diagramme des ensembles GEFS sur 384h : 50.9N 6.1E</b>", 11.3),
        txt(29, 692, "Temp\u00e9rature 2m (\u00b0C) , pr\u00e9cipitations (mm)"),
        txt(448, 673, "Ensemble GEFS du 27/12/2014 - 06Z"),
        txt(448, 692, "<b>Copyright 2014 Meteociel.fr</b>", 11.6)]

shapes = [
    dict(type="line", xref="paper", x0=0, x1=1, yref="y", y0=0.12, y1=0.12,
         line=dict(color="black", width=1), layer="between"),
    dict(type="line", xref="paper", x0=0, x1=1, yref="y", y0=-0.25, y1=-0.25,
         line=dict(color="black", width=1), layer="between"),
    dict(type="rect", xref="paper", yref="paper", x0=px_x(20), x1=px_x(440),
         y0=px_y(699), y1=px_y(667), line=dict(color="black", width=1.5)),
]


def leg_line(x0, x1, py, color, w):
    return dict(type="line", xref="paper", yref="paper", x0=px_x(x0), x1=px_x(x1),
                y0=px_y(py), y1=px_y(py), line=dict(color=color, width=w))


shapes += [leg_line(35, 66, 652, "#ff0000", 5), leg_line(225, 256, 637, "#0000ff", 4),
           leg_line(225, 256, 647, "black", 4), leg_line(225, 256, 657, "black", 4),
           leg_line(225, 256, 657, "#ffff00", 1.5)]

for k, c in enumerate(pert_colors):
    x0 = 470 + 11 * k
    shapes.append(dict(type="rect", xref="paper", yref="paper", x0=px_x(x0), x1=px_x(x0 + 10),
                       y0=px_y(655.5), y1=px_y(649.5), fillcolor=c, line=dict(width=0)))
    ann.append(dict(x=px_x(x0 + 5), xref="paper", xanchor="center", y=px_y(643), yref="paper",
                    yanchor="middle", text="<b>%02d</b>" % (k + 1), showarrow=False,
                    borderpad=0, font=dict(family=mono, size=7.5, color="black")))

fig.update_layout(
    width=740, height=700,
    margin=dict(l=50, r=50, t=0, b=100),
    paper_bgcolor="white", plot_bgcolor="white",
    showlegend=False, hovermode=False,
    xaxis=dict(range=[0, 384], tickvals=day_hours, showticklabels=False, ticks="",
               showgrid=True, gridcolor="#c0c0c0", gridwidth=1, zeroline=False,
               showline=True, linecolor="black", linewidth=1.5),
    yaxis=dict(range=[-300 / 7, 300 / 7], tickvals=list(range(-35, 41, 5)), showticklabels=False,
               ticks="", showgrid=True, gridcolor="#c0c0c0", gridwidth=1, zeroline=False,
               showline=True, linecolor="black", linewidth=1.5, mirror=True),
    yaxis2=dict(overlaying="y", range=[-17 / 0.26, 583 / 0.26], visible=False),
    yaxis3=dict(overlaying="y", range=[-300 / 7 + 35, 300 / 7 + 35], visible=False),
    annotations=ann, shapes=shapes,
)

# la page par defaut a une marge de 8px : on la retire pour caler la figure sur la fenetre
fig.write_html("out.html", config={"displayModeBar": False},
               post_script="document.body.style.margin='0';"
                           "document.body.style.overflow='hidden';")
